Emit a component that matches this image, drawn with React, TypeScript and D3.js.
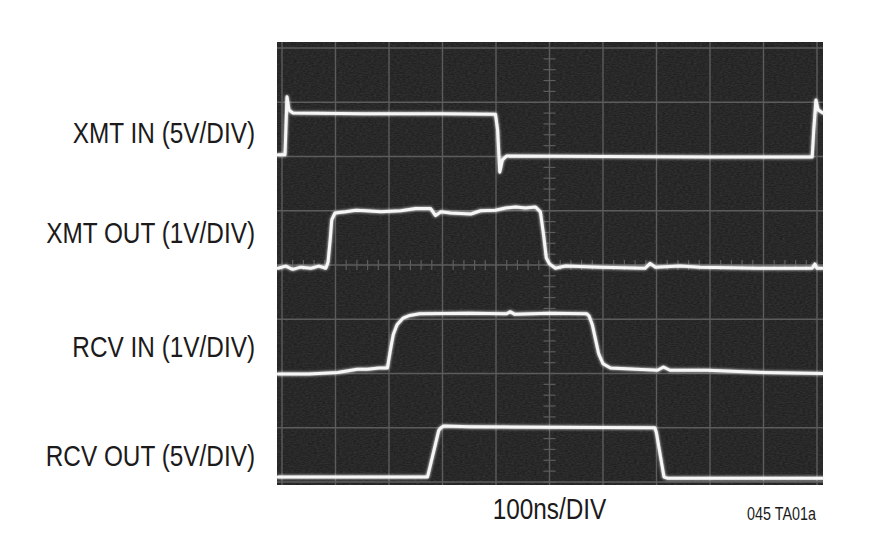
import React from "react";
import * as d3 from "d3";

// time in divisions (0..10), amplitude in divisions (0..8 from bottom)
const xmtIn: [number, number][] = [
  [-0.075, 6.03], [0.056, 6.03], [0.093, 7.1], [0.13, 6.86], [0.205, 6.8],
  [1.5, 6.79], [3.0, 6.79], [3.99, 6.78], [4.03, 6.49], [4.07, 5.71],
  [4.12, 5.94], [4.2, 6.01], [6.0, 6.0], [8.0, 5.99], [9.91, 5.99],
  [9.94, 6.49], [9.98, 7.04], [10.02, 6.86], [10.11, 6.8],
];

const xmtOut: [number, number][] = [
  [-0.075, 3.94], [0.07, 3.98], [0.2, 3.92], [0.35, 3.96], [0.54, 3.94],
  [0.69, 3.98], [0.82, 3.94], [0.86, 4.05], [0.9, 4.46], [0.93, 4.83],
  [0.99, 4.96], [1.19, 4.98], [1.38, 5.01], [1.57, 5.0], [1.85, 4.98],
  [2.22, 5.0], [2.5, 5.04], [2.78, 5.04], [2.87, 4.91], [2.97, 4.98],
  [3.15, 4.96], [3.53, 4.94], [3.71, 5.0], [3.99, 5.01], [4.18, 5.05],
  [4.37, 5.07], [4.55, 5.05], [4.74, 5.07], [4.83, 4.98], [4.89, 4.55],
  [4.94, 4.13], [5.0, 4.02], [5.11, 3.94], [5.3, 3.98], [5.95, 3.96],
  [6.79, 3.94], [6.88, 4.03], [6.98, 3.96], [7.44, 3.98], [7.81, 3.96],
  [8.9, 3.94], [9.65, 3.94], [9.91, 3.94], [9.96, 4.02], [10.0, 3.94],
  [10.11, 3.94],
];

const rcvIn: [number, number][] = [
  [-0.075, 1.99], [0.5, 1.99], [1.04, 2.02], [1.41, 2.08], [1.6, 2.08],
  [1.81, 2.1], [1.97, 2.1], [2.03, 2.45], [2.08, 2.72], [2.15, 2.9],
  [2.26, 3.02], [2.39, 3.07], [2.57, 3.1], [3.5, 3.11], [4.2, 3.1],
  [4.27, 3.14], [4.35, 3.09], [5.0, 3.11], [5.7, 3.1], [5.74, 3.06],
  [5.8, 2.9], [5.86, 2.63], [5.92, 2.36], [6.0, 2.18], [6.14, 2.1],
  [7.02, 2.06], [7.13, 2.12], [7.25, 2.06], [7.95, 2.06], [9.0, 2.02],
  [10.11, 2.0],
];

const rcvOut: [number, number][] = [
  [-0.075, 0.09], [2.0, 0.09], [2.72, 0.09], [2.93, 0.95], [2.97, 1.0],
  [3.02, 1.03], [3.5, 1.02], [5.0, 1.01], [6.97, 1.0], [7.0, 0.9],
  [7.14, 0.09], [7.2, 0.07], [8.5, 0.07], [10.11, 0.07],
];

const traceLabels = ["XMT IN (5V/DIV)", "XMT OUT (1V/DIV)", "RCV IN (1V/DIV)", "RCV OUT (5V/DIV)"];
const labelLevels = [6.25, 4.41, 2.3, 0.29];
const timebase = "100ns/DIV";
const figureId = "045 TA01a";
const hDivs = d3.range(0, 11);
const vDivs = d3.range(0, 9);

export default function App() {
  const x = d3.scaleLinear().domain([0, 10]).range([282, 817]);
  const y = d3.scaleLinear().domain([0, 8]).range([482, 48]);
  const line = d3
    .line<[number, number]>()
    .x((d) => x(d[0]))
    .y((d) => y(d[1]))
    .curve(d3.curveLinear);

  const minor = d3.range(0, 10.001, 0.2);
  const minorV = d3.range(0, 8.001, 0.2);
  const font = "'Liberation Sans', Arial, sans-serif";
  const traces = [xmtIn, xmtOut, rcvIn, rcvOut];
  const sx = 0.84;

  return (
    <svg
      width={892}
      height={545}
      style={{ position: "absolute", left: 0, top: 0, background: "#fff" }}
    >
      <defs>
        <filter id="glow" x="-5%" y="-20%" width="110%" height="140%">
          <feGaussianBlur in="SourceGraphic" stdDeviation="1.6" result="b" />
          <feMerge>
            <feMergeNode in="b" />
            <feMergeNode in="SourceGraphic" />
          </feMerge>
        </filter>
        <filter id="noise" x="0" y="0" width="100%" height="100%">
          <feTurbulence type="fractalNoise" baseFrequency="0.35 0.9" numOctaves="2" seed="4" result="t" />
          <feColorMatrix
            in="t"
            type="matrix"
            values="0 0 0 0 0.22  0 0 0 0 0.22  0 0 0 0 0.22  0 0 0 0.5 -0.1"
          />
        </filter>
      </defs>
      <rect x={277} y={42} width={546} height={443} fill="#202020" />
      <rect x={277} y={42} width={546} height={443} filter="url(#noise)" opacity={0.6} />
      <g stroke="#5c5c5c" strokeWidth={1.4}>
        {hDivs.map((d) => (
          <line key={"v" + d} x1={x(d)} x2={x(d)} y1={42} y2={485} />
        ))}
        {vDivs.map((d) => (
          <line key={"h" + d} x1={277} x2={823} y1={y(d)} y2={y(d)} />
        ))}
        {minor.map((d) => (
          <line key={"mx" + d} x1={x(d)} x2={x(d)} y1={y(4) - 5} y2={y(4) + 5} strokeWidth={1.2} />
        ))}
        {minorV.map((d) => (
          <line key={"my" + d} x1={x(5) - 6} x2={x(5) + 6} y1={y(d)} y2={y(d)} strokeWidth={1.2} />
        ))}
      </g>
      <g fill="none" stroke="#f6f6f6" strokeWidth={3} strokeLinejoin="round" strokeLinecap="round" filter="url(#glow)">
        {traces.map((t, i) => (
          <path key={i} d={line(t) || ""} />
        ))}
      </g>
      <g fontFamily={font} fill="#1c1a1b">
        {traceLabels.map((l, i) => (
          <g key={l} transform={`translate(255,${y(labelLevels[i])}) scale(${sx},1)`}>
            <text x={0} y={0} fontSize={29} textAnchor="end">
              {l}
            </text>
          </g>
        ))}
        <g transform={`translate(${x(5)},519) scale(${sx},1)`}>
          <text x={0} y={0} fontSize={29} textAnchor="middle">
            {timebase}
          </text>
        </g>
        <g transform={`translate(816,520) scale(0.82,1)`}>
          <text x={0} y={0} fontSize={17.5} textAnchor="end">
            {figureId}
          </text>
        </g>
      </g>
    </svg>
  );
}
